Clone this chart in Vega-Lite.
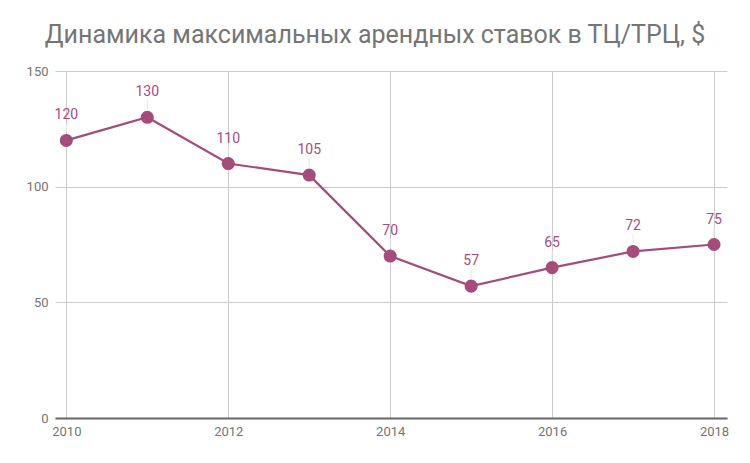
{
  "$schema": "https://vega.github.io/schema/vega-lite/v6.json",
  "width": 672,
  "height": 347,
  "autosize": {"type": "none"},
  "padding": {"left": 55, "top": 71, "right": 23, "bottom": 45},
  "background": "white",
  "config": {"view": {"stroke": null}, "font": "Roboto"},
  "title": {
    "text": "Динамика максимальных арендных ставок в ТЦ/ТРЦ, $",
    "font": "Roboto",
    "fontSize": 25,
    "fontWeight": "normal",
    "color": "#757575",
    "anchor": "middle",
    "dx": -16,
    "offset": 17
  },
  "data": {
    "values": [
      {"year": 2010, "value": 120},
      {"year": 2011, "value": 130},
      {"year": 2012, "value": 110},
      {"year": 2013, "value": 105},
      {"year": 2014, "value": 70},
      {"year": 2015, "value": 57},
      {"year": 2016, "value": 65},
      {"year": 2017, "value": 72},
      {"year": 2018, "value": 75}
    ]
  },
  "encoding": {
    "x": {
      "field": "year",
      "type": "quantitative",
      "scale": {"domain": [2009.86, 2018.16], "nice": false, "zero": false},
      "axis": {
        "title": null,
        "values": [2010, 2012, 2014, 2016, 2018],
        "format": "d",
        "grid": true,
        "gridColor": "#cccccc",
        "ticks": false,
        "domainColor": "#666666",
        "domainWidth": 2,
        "labelFont": "Roboto",
        "labelFontSize": 13,
        "labelColor": "#757575",
        "labelPadding": 7,
        "labelFlush": false
      }
    },
    "y": {
      "field": "value",
      "type": "quantitative",
      "scale": {"domain": [0, 150], "nice": false},
      "axis": {
        "title": null,
        "values": [0, 50, 100, 150],
        "grid": true,
        "gridColor": "#cccccc",
        "ticks": false,
        "domain": false,
        "labelFont": "Roboto",
        "labelFontSize": 13,
        "labelColor": "#757575",
        "labelPadding": 7
      }
    }
  },
  "layer": [
    {
      "mark": {"type": "rule", "color": "#e6e6e6", "strokeWidth": 1, "yOffset": -8, "y2Offset": -17},
      "encoding": {"y2": {"field": "value"}}
    },
    {
      "mark": {"type": "line", "color": "#a44d7a", "strokeWidth": 2.2}
    },
    {
      "mark": {"type": "point", "filled": true, "opacity": 1, "size": 170, "color": "#a44d7a"}
    },
    {
      "mark": {"type": "text", "color": "#a84d80", "font": "Roboto", "fontSize": 14, "baseline": "alphabetic", "dy": -21},
      "encoding": {"text": {"field": "value", "type": "quantitative"}}
    }
  ]
}
